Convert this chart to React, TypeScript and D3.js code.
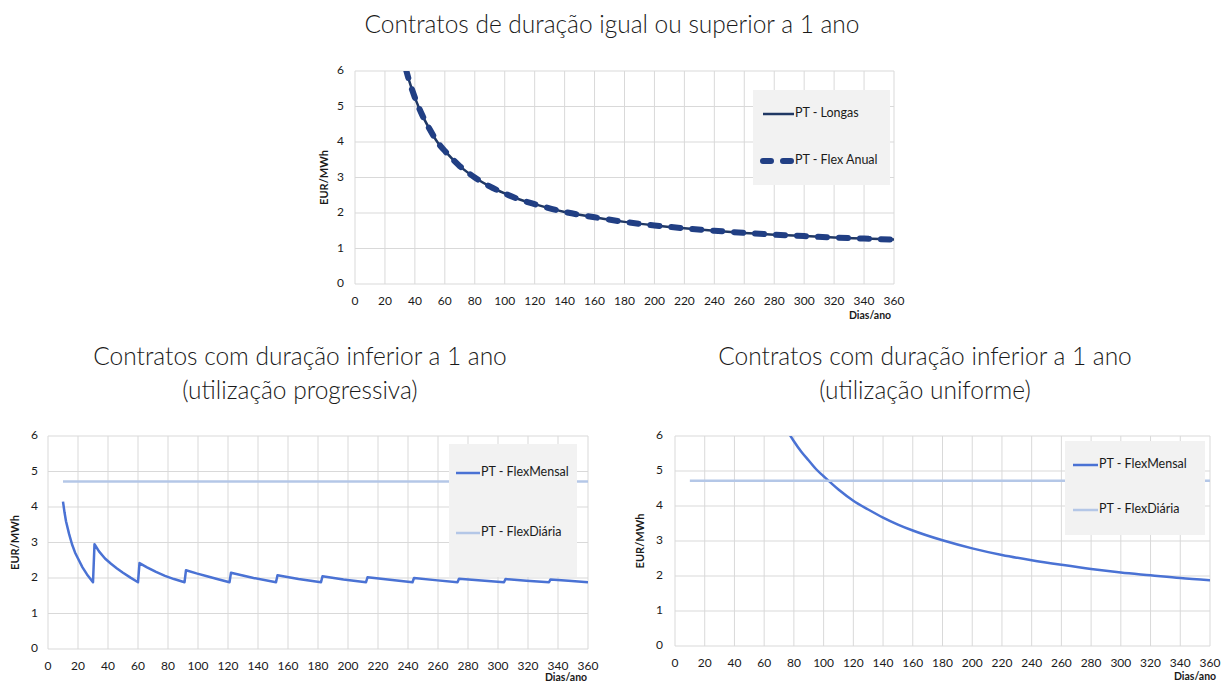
import React from 'react';
import * as d3 from 'd3';

// Top chart: contracts >= 1 year
const longasDays = [34, 36, 40, 45, 50, 55, 60, 70, 80, 90, 100, 110, 120, 140, 160, 180, 200, 220, 240, 260, 280, 300, 320, 340, 360];
const longasValues = [6.05, 5.75, 5.25, 4.75, 4.35, 4.0, 3.75, 3.32, 3.0, 2.75, 2.55, 2.38, 2.25, 2.03, 1.88, 1.75, 1.65, 1.57, 1.5, 1.44, 1.39, 1.35, 1.31, 1.28, 1.25];
const flexAnualValues = [6.05, 5.75, 5.25, 4.75, 4.35, 4.0, 3.75, 3.32, 3.0, 2.75, 2.55, 2.38, 2.25, 2.03, 1.88, 1.75, 1.65, 1.57, 1.5, 1.44, 1.39, 1.35, 1.31, 1.28, 1.25];

// Bottom-left: progressive use (monthly sawtooth)
const progDays = [
  10, 11, 12, 14, 16, 18, 20, 23, 26, 30,
  31, 34, 38, 42, 46, 50, 55, 60,
  61, 66, 72, 78, 84, 91,
  92, 99, 106, 114, 121,
  122, 137, 152,
  153, 167, 182,
  183, 197, 212,
  213, 228, 243,
  244, 258, 273,
  274, 289, 304,
  305, 319, 334,
  335, 347, 360,
];
const progValues = [
  4.15, 3.85, 3.6, 3.25, 2.95, 2.72, 2.55, 2.3, 2.1, 1.88,
  2.95, 2.75, 2.55, 2.4, 2.27, 2.15, 2.01, 1.88,
  2.42, 2.3, 2.17, 2.06, 1.97, 1.88,
  2.22, 2.13, 2.05, 1.96, 1.88,
  2.15, 2.0, 1.88,
  2.08, 1.97, 1.88,
  2.05, 1.96, 1.88,
  2.02, 1.95, 1.88,
  2.0, 1.94, 1.88,
  1.98, 1.93, 1.88,
  1.97, 1.92, 1.88,
  1.96, 1.92, 1.88,
];

// Bottom-right: uniform use
const unifDays = [77, 80, 85, 90, 95, 100, 110, 120, 130, 140, 150, 160, 180, 200, 220, 240, 260, 280, 300, 320, 340, 360];
const unifValues = [6.05, 5.85, 5.55, 5.3, 5.05, 4.85, 4.47, 4.15, 3.9, 3.67, 3.47, 3.3, 3.02, 2.79, 2.6, 2.45, 2.32, 2.2, 2.1, 2.02, 1.94, 1.88];

// FlexDiária flat line
const diariaDays = [10, 360];
const diariaValues = [4.72, 4.72];

const xTicks = d3.range(0, 361, 20);
const yTicks = [0, 1, 2, 3, 4, 5, 6];

const FONT = 'Lato, "Open Sans", sans-serif';

type Series = {
  name: string;
  days: number[];
  values: number[];
  color: string;
  width: number;
  dash?: string;
  curve: d3.CurveFactory;
};

type PanelProps = {
  id: string;
  left: number;
  right: number;
  top: number;
  bottom: number;
  series: Series[];
  legend: { x0: number; x1: number; y0: number; y1: number; rows: number[]; lineX: number; lineLen: number };
  tickY: number;
  yTitleX: number;
  tickLabelX: number;
  xTitle: { x: number; y: number };
};

const Panel: React.FC<PanelProps> = ({ id, left, right, top, bottom, series, legend, tickY, yTitleX, tickLabelX, xTitle }) => {
  const x = d3.scaleLinear().domain([0, 360]).range([left, right]);
  const y = d3.scaleLinear().domain([0, 6]).range([bottom, top]);

  return (
    <g>
      <defs>
        <clipPath id={id}>
          <rect x={left} y={top} width={right - left} height={bottom - top} />
        </clipPath>
      </defs>
      {/* grid */}
      {xTicks.map(t => (
        <line key={'gx' + t} x1={x(t)} x2={x(t)} y1={top} y2={bottom} stroke="#d9d9d9" strokeWidth={1} />
      ))}
      {yTicks.map(t => (
        <line key={'gy' + t} x1={left} x2={right} y1={y(t)} y2={y(t)} stroke="#d9d9d9" strokeWidth={1} />
      ))}
      {/* tick labels */}
      {xTicks.map(t => (
        <text key={'tx' + t} x={x(t)} y={tickY} fontSize={12} fill="#1a1a1a" textAnchor="middle" dominantBaseline="middle">{t}</text>
      ))}
      {yTicks.map(t => (
        <text key={'ty' + t} x={tickLabelX} y={y(t)} fontSize={12} fill="#1a1a1a" textAnchor="end" dominantBaseline="middle">{t}</text>
      ))}
      <text transform={`translate(${yTitleX},${(top + bottom) / 2}) rotate(-90)`} fontSize={11} fontWeight="bold" fill="#1a1a1a" textAnchor="middle" dominantBaseline="middle">EUR/MWh</text>
      <text x={xTitle.x} y={xTitle.y} fontSize={10.5} fontWeight="bold" fill="#1a1a1a" textAnchor="middle" dominantBaseline="middle">Dias/ano</text>
      {/* series */}
      <g clipPath={`url(#${id})`}>
        {series.map(s => {
          const pts: [number, number][] = s.days.map((d, i) => [d, s.values[i]]);
          const line = d3.line<[number, number]>().x(p => x(p[0])).y(p => y(p[1])).curve(s.curve);
          return (
            <path key={s.name} d={line(pts) || ''} fill="none" stroke={s.color} strokeWidth={s.width}
              strokeDasharray={s.dash} strokeLinecap={s.dash ? 'round' : 'butt'} strokeLinejoin="round" />
          );
        })}
      </g>
      {/* legend */}
      <rect x={legend.x0} y={legend.y0} width={legend.x1 - legend.x0} height={legend.y1 - legend.y0} fill="#f2f2f2" />
      {series.map((s, i) => (
        <g key={'lg' + s.name}>
          <line x1={legend.lineX} x2={legend.lineX + legend.lineLen} y1={legend.rows[i]} y2={legend.rows[i]} stroke={s.color}
            strokeWidth={s.width} strokeDasharray={s.dash ? '8,12' : undefined} strokeLinecap={s.dash ? 'round' : 'butt'} />
          <text x={legend.lineX + legend.lineLen + 1} y={legend.rows[i]} fontSize={12.5} fill="#1a1a1a" dominantBaseline="middle">{s.name}</text>
        </g>
      ))}
    </g>
  );
};

const App: React.FC = () => {
  const titleStyle = { fontSize: 24.5, fontWeight: 300, fill: '#1a1a1a' } as const;
  return (
    <svg width={1224} height={684} style={{ position: 'absolute', left: 0, top: 0, background: '#fff' }} fontFamily={FONT}>
      <text x={612} y={27} textAnchor="middle" dominantBaseline="middle" {...titleStyle}>Contratos de duração igual ou superior a 1 ano</text>
      <text x={300} y={359} textAnchor="middle" dominantBaseline="middle" {...titleStyle}>Contratos com duração inferior a 1 ano</text>
      <text x={300} y={393} textAnchor="middle" dominantBaseline="middle" {...titleStyle}>(utilização progressiva)</text>
      <text x={925} y={359} textAnchor="middle" dominantBaseline="middle" {...titleStyle}>Contratos com duração inferior a 1 ano</text>
      <text x={925} y={393} textAnchor="middle" dominantBaseline="middle" {...titleStyle}>(utilização uniforme)</text>

      <Panel
        id="clipTop"
        left={355} right={894} top={71} bottom={284}
        tickY={302} tickLabelX={344} yTitleX={325}
        xTitle={{ x: 870, y: 316 }}
        legend={{ x0: 753, x1: 890, y0: 90, y1: 185, rows: [114, 161], lineX: 763, lineLen: 31 }}
        series={[
          { name: 'PT - Longas', days: longasDays, values: longasValues, color: '#203864', width: 2.5, curve: d3.curveMonotoneX },
          { name: 'PT - Flex Anual', days: longasDays, values: flexAnualValues, color: '#213f84', width: 6, dash: '9,12', curve: d3.curveMonotoneX },
        ]}
      />
      <Panel
        id="clipLeft"
        left={48} right={588} top={436} bottom={649}
        tickY={667} tickLabelX={38} yTitleX={16}
        xTitle={{ x: 566, y: 678 }}
        legend={{ x0: 449, x1: 577, y0: 444, y1: 577, rows: [473, 533], lineX: 456, lineLen: 24 }}
        series={[
          { name: 'PT - FlexMensal', days: progDays, values: progValues, color: '#4a72d4', width: 2.5, curve: d3.curveLinear },
          { name: 'PT - FlexDiária', days: diariaDays, values: diariaValues, color: '#b4c7e7', width: 2.5, curve: d3.curveLinear },
        ]}
      />
      <Panel
        id="clipRight"
        left={675} right={1210} top={436} bottom={646}
        tickY={664} tickLabelX={663} yTitleX={641}
        xTitle={{ x: 1195, y: 677 }}
        legend={{ x0: 1065, x1: 1205, y0: 441, y1: 535, rows: [465, 510], lineX: 1073, lineLen: 25 }}
        series={[
          { name: 'PT - FlexMensal', days: unifDays, values: unifValues, color: '#4a72d4', width: 2.5, curve: d3.curveMonotoneX },
          { name: 'PT - FlexDiária', days: diariaDays, values: diariaValues, color: '#b4c7e7', width: 2.5, curve: d3.curveLinear },
        ]}
      />
    </svg>
  );
};

export default App;
